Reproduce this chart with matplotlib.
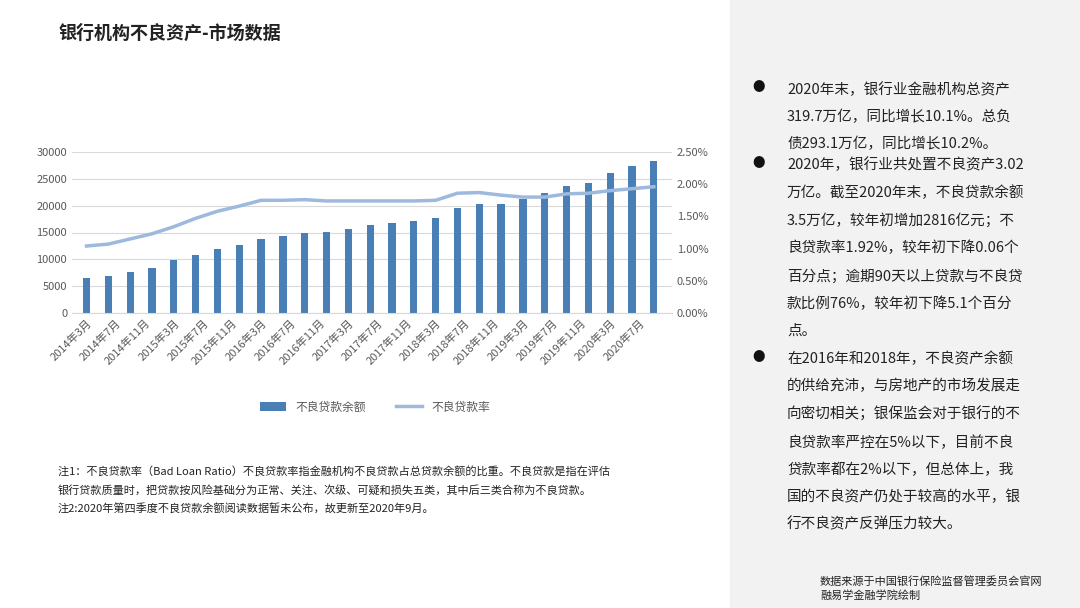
import matplotlib.pyplot as plt
import numpy as np

plt.rcParams['font.family'] = 'Noto Sans CJK SC'

# quarterly data 2014Q1 .. 2020Q3
months = list(range(0, 81, 3))  # months since 2014-03
npl_balance = [6470, 6970, 7590, 8340, 9830, 10890, 11880, 12750, 13870, 14370,
               14870, 15120, 15740, 16370, 16740, 17050, 17610, 19540, 20350, 20220,
               21280, 22400, 23650, 24140, 26130, 27320, 28380]
npl_ratio = [1.04, 1.07, 1.15, 1.23, 1.34, 1.47, 1.58, 1.66, 1.75, 1.75,
             1.76, 1.74, 1.74, 1.74, 1.74, 1.74, 1.75, 1.86, 1.87, 1.83,
             1.80, 1.80, 1.85, 1.86, 1.90, 1.93, 1.96]
tick_pos = list(range(0, 80, 4))
tick_labels = []
for p in tick_pos:
    m = 3 + p
    tick_labels.append(f"{2014 + (m - 1) // 12}年{(m - 1) % 12 + 1}月")

bullets = [
    "2020年末，银行业金融机构总资产\n319.7万亿，同比增长10.1%。总负\n债293.1万亿，同比增长10.2%。",
    "2020年，银行业共处置不良资产3.02\n万亿。截至2020年末，不良贷款余额\n3.5万亿，较年初增加2816亿元；不\n良贷款率1.92%，较年初下降0.06个\n百分点；逾期90天以上贷款与不良贷\n款比例76%，较年初下降5.1个百分\n点。",
    "在2016年和2018年，不良资产余额\n的供给充沛，与房地产的市场发展走\n向密切相关；银保监会对于银行的不\n良贷款率严控在5%以下，目前不良\n贷款率都在2%以下,但总体上，我\n国的不良资产仍处于较高的水平，银\n行不良资产反弹压力较大。".replace("以下,", "以下，"),
]
bullet_y = [88, 163, 357]

W, H = 1080, 608
fig = plt.figure(figsize=(W / 100, H / 100), dpi=100)
fig.patches.append(plt.Rectangle((730 / W, 0), 1, 1, transform=fig.transFigure,
                                 color='#f2f2f2', zorder=0))
fig.text(58 / W, 1 - 33 / H, "银行机构不良资产-市场数据", fontsize=13,
         fontweight='bold', va='center', color='#222222')

ax = fig.add_axes([72 / W, 1 - 313 / H, 600 / W, 161 / H])
blue = '#4a7fb5'
ax.bar(months, npl_balance, width=1.0, color=blue, label='不良贷款余额', zorder=2)
ax.set_ylim(0, 30000)
ax.set_yticks(range(0, 30001, 5000))
ax.set_xlim(-2, 80.5)
ax.grid(axis='y', color='#d9d9d9', lw=0.8, zorder=0)
ax.set_xticks(tick_pos)
ax.set_xticklabels(tick_labels, rotation=45, ha='right', rotation_mode='anchor')
ax.tick_params(labelsize=8, colors='#595959', length=0)
for s in ['top', 'right', 'left']:
    ax.spines[s].set_visible(False)
ax.spines['bottom'].set_color('#d9d9d9')

ax2 = ax.twinx()
ax2.plot(months, npl_ratio, color='#9db9de', lw=2.5, label='不良贷款率', zorder=3)
ax2.set_ylim(0, 2.5)
ax2.set_yticks(np.arange(0, 2.51, 0.5))
ax2.set_yticklabels([f"{v:.2f}%" for v in np.arange(0, 2.51, 0.5)])
ax2.tick_params(labelsize=8, colors='#595959', length=0)
for s in ax2.spines.values():
    s.set_visible(False)

h1, l1 = ax.get_legend_handles_labels()
h2, l2 = ax2.get_legend_handles_labels()
fig.legend(h1 + h2, l1 + l2, loc='center', bbox_to_anchor=(375 / W, 1 - 407 / H),
           ncol=2, frameon=False, fontsize=8.5, labelcolor='#595959',
           handlelength=2.2, columnspacing=2.5)

notes = ("注1：不良贷款率（Bad Loan Ratio）不良贷款率指金融机构不良贷款占总贷款余额的比重。不良贷款是指在评估\n"
         "银行贷款质量时，把贷款按风险基础分为正常、关注、次级、可疑和损失五类，其中后三类合称为不良贷款。\n"
         "注2:2020年第四季度不良贷款余额阅读数据暂未公布，故更新至2020年9月。")
fig.text(58 / W, 1 - 466 / H, notes, fontsize=8, va='top', linespacing=1.9, color='#222222')

for b, y in zip(bullets, bullet_y):
    fig.text(752 / W, 1 - y / H, "●", fontsize=9, va='center', color='#111111')
    fig.text(787 / W, 1 - (y - 6) / H, b, fontsize=10.5, va='top', color='#222222',
             linespacing=2.13)

fig.text(820 / W, 1 - 588 / H, "数据来源于中国银行保险监督管理委员会官网\n融易学金融学院绘制",
         fontsize=8, va='center', color='#222222', linespacing=1.4)

fig.savefig('out.png', dpi=100)
